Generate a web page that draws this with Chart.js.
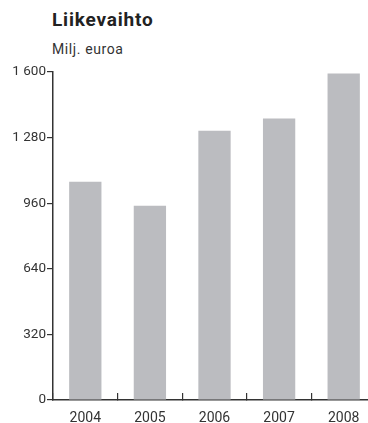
<!DOCTYPE html>
<html>
<head>
<meta charset="utf-8">
<script src="https://cdn.jsdelivr.net/npm/chart.js@4"></script>
<style>
html,body{margin:0;padding:0;background:#fff;overflow:hidden;width:368px;height:423px;}
#title{position:absolute;left:52px;top:8px;font:bold 19px Roboto,sans-serif;letter-spacing:0.8px;color:#222;}
#sub{position:absolute;left:52px;top:41px;font:14px Roboto,sans-serif;letter-spacing:0.6px;color:#333;}
#wrap{position:absolute;left:0;top:0;width:380px;height:423px;}
</style>
</head>
<body>
<div id="title">Liikevaihto</div>
<div id="sub">Milj. euroa</div>
<div id="wrap"><canvas id="chart"></canvas></div>
<script>

/* data */
const years = ["2004","2005","2006","2007","2008"]
const turnover = [1065, 948, 1314, 1373, 1593]
const yTicks = [0, 320, 640, 960, 1280, 1600]

const axisColor = "#333"

const chart = new Chart(
document.getElementById("chart"),
{
type:"bar",
data:{
labels:years,
datasets:[
{
data:turnover,
backgroundColor:"#bbbcc0",
barPercentage:0.5,
categoryPercentage:1
}
]
},
options:{
animation:false,
responsive:true,
maintainAspectRatio:false,
layout:{padding:{top:72,right:4,left:0,bottom:0}},
plugins:{legend:{display:false},tooltip:{enabled:false}},
scales:{
x:{
grid:{
offset:true,
drawOnChartArea:false,
tickLength:-7,
color:axisColor,
lineWidth:1.2
},
border:{color:axisColor,width:1.5},
ticks:{
padding:17,
color:"#333",
font:{family:"Roboto",size:14}
},
afterFit:s=>{s.height=23}
},
y:{
min:0,
max:1600,
afterBuildTicks:s=>{s.ticks=yTicks.map(v=>({value:v}))},
grid:{
drawOnChartArea:false,
tickLength:6,
color:axisColor,
lineWidth:1.2
},
border:{color:axisColor,width:1.5},
ticks:{
padding:1,
color:"#333",
font:{family:"Roboto",size:13.5},
callback:v=>String(v).replace(/\B(?=(\d{3})+(?!\d))/g," ")
},
afterFit:s=>{s.width=53}
}
}
}
})

</script>
</body>
</html>
